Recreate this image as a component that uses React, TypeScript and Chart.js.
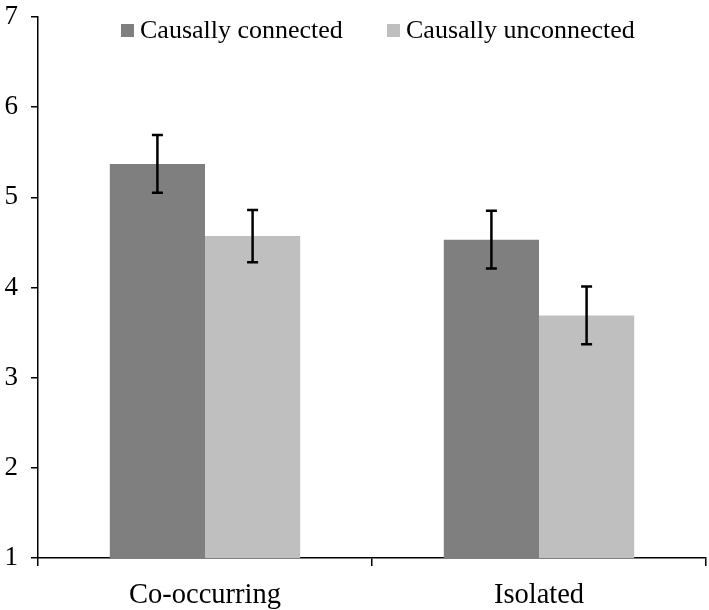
import React, { useEffect, useRef } from "react";
import { Chart, registerables } from "chart.js";

Chart.register(...registerables);

const categories = ["Co-occurring", "Isolated"];
const seriesNames = ["Causally connected", "Causally unconnected"];
const connectedValues = [5.37, 4.53];
const unconnectedValues = [4.57, 3.69];
const connectedErrors = [0.32, 0.32];
const unconnectedErrors = [0.29, 0.32];
const yTicks = [1, 2, 3, 4, 5, 6, 7];
const seriesColors = ["#7f7f7f", "#bfbfbf"];

const FONT = "'Liberation Serif', 'Times New Roman', serif";

const errorBarPlugin = {
  id: "errorBars",
  afterDatasetsDraw(chart: any) {
    const ctx = chart.ctx;
    const yScale = chart.scales.y;
    const errs = [connectedErrors, unconnectedErrors];
    chart.data.datasets.forEach((ds: any, di: number) => {
      const meta = chart.getDatasetMeta(di);
      meta.data.forEach((el: any, i: number) => {
        const v = ds.data[i];
        const e = errs[di][i];
        const yTop = yScale.getPixelForValue(v + e);
        const yBot = yScale.getPixelForValue(v - e);
        const x = el.x;
        ctx.save();
        ctx.strokeStyle = "#000";
        ctx.lineWidth = 2.5;
        ctx.beginPath();
        ctx.moveTo(x, yTop);
        ctx.lineTo(x, yBot);
        ctx.moveTo(x - 5.5, yTop);
        ctx.lineTo(x + 5.5, yTop);
        ctx.moveTo(x - 5.5, yBot);
        ctx.lineTo(x + 5.5, yBot);
        ctx.stroke();
        ctx.restore();
      });
    });
  },
};

export default function App() {
  const ref = useRef<HTMLCanvasElement | null>(null);

  useEffect(() => {
    if (!ref.current) return;
    const chart = new Chart(ref.current, {
      type: "bar",
      data: {
        labels: categories,
        datasets: [
          {
            label: seriesNames[0],
            data: connectedValues,
            backgroundColor: seriesColors[0],
            borderWidth: 0,
            categoryPercentage: 0.57,
            barPercentage: 1,
          },
          {
            label: seriesNames[1],
            data: unconnectedValues,
            backgroundColor: seriesColors[1],
            borderWidth: 0,
            categoryPercentage: 0.57,
            barPercentage: 1,
          },
        ],
      },
      options: {
        responsive: false,
        animation: false,
        devicePixelRatio: 1,
        layout: { padding: { top: 17, right: 3, left: 0, bottom: 0 } },
        plugins: {
          legend: { display: false },
          tooltip: { enabled: false },
        },
        scales: {
          y: {
            min: 1,
            max: 7,
            afterBuildTicks: (scale: any) => {
              scale.ticks = yTicks.map((v) => ({ value: v }));
            },
            afterFit: (scale: any) => {
              scale.width = 38;
              scale.paddingTop = 0;
              scale.paddingBottom = 0;
            },
            ticks: {
              color: "#000",
              font: { family: FONT, size: 27 },
              padding: 13,
            },
            border: { display: true, color: "#000", width: 1.5 },
            grid: {
              display: true,
              drawOnChartArea: false,
              drawTicks: true,
              tickLength: 7,
              color: "#000",
              lineWidth: 1.5,
            },
          },
          x: {
            offset: true,
            afterFit: (scale: any) => {
              scale.height = 52;
              scale.paddingLeft = 0;
              scale.paddingRight = 0;
            },
            ticks: {
              color: "#000",
              font: { family: FONT, size: 28.5 },
              padding: 12,
            },
            border: { display: true, color: "#000", width: 1.5 },
            grid: {
              display: true,
              offset: true,
              drawOnChartArea: false,
              drawTicks: true,
              tickLength: 8,
              color: "#000",
              lineWidth: 1.5,
            },
          },
        },
      },
      plugins: [errorBarPlugin],
    } as any);
    return () => chart.destroy();
  }, []);

  const legendItem = (name: string, color: string, left: number) => (
    <div
      style={{
        position: "absolute",
        left,
        top: 17,
        display: "flex",
        alignItems: "center",
        fontFamily: FONT,
        fontSize: 26,
        lineHeight: "26px",
        color: "#000",
        whiteSpace: "nowrap",
      }}
    >
      <span
        style={{
          display: "inline-block",
          width: 13,
          height: 13,
          background: color,
          marginRight: 6,
        }}
      />
      <span>{name}</span>
    </div>
  );

  return (
    <div
      style={{
        position: "fixed",
        left: 0,
        top: 0,
        width: 709,
        height: 610,
        background: "#fff",
      }}
    >
      <canvas ref={ref} width={709} height={610} style={{ display: "block" }} />
      {legendItem(seriesNames[0], seriesColors[0], 121)}
      {legendItem(seriesNames[1], seriesColors[1], 387)}
    </div>
  );
}
